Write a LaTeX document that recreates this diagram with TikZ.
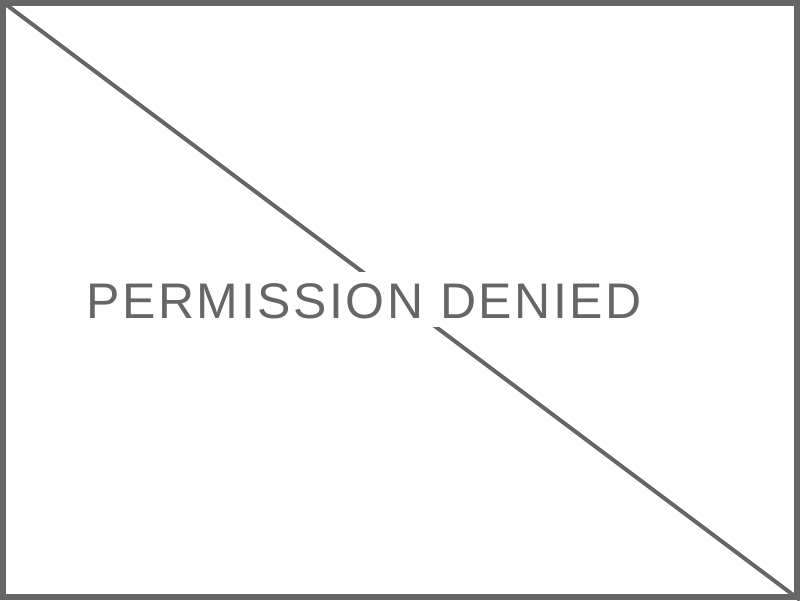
\documentclass[tikz,border=0pt]{standalone}
\usepackage{fontspec}
\setmainfont{Liberation Sans}
\newfontfamily\labelfont[LetterSpace=5.2]{Liberation Sans}
\definecolor{pdgray}{HTML}{666666}
\begin{document}
\begin{tikzpicture}[x=1pt,y=-1pt,
  frame/.style={draw=pdgray,line width=6pt},
  diag/.style={draw=pdgray,line width=4pt},
  msg/.style={fill=white,text=pdgray,inner sep=0pt,text height=46pt,text depth=9pt,font=\labelfont\fontsize{50}{50}\selectfont,anchor=base west}]
\useasboundingbox (0,0) rectangle (800,600);
\fill[white] (0,0) rectangle (800,600);
\coordinate (tl) at (0,0);
\coordinate (br) at (800,600);
\draw[diag] (tl) -- (br);
\node[msg] (label) at (86,318) {PERMISSION DENIED};
\draw[frame] (3,3) rectangle (797,597);
\end{tikzpicture}
\end{document}
